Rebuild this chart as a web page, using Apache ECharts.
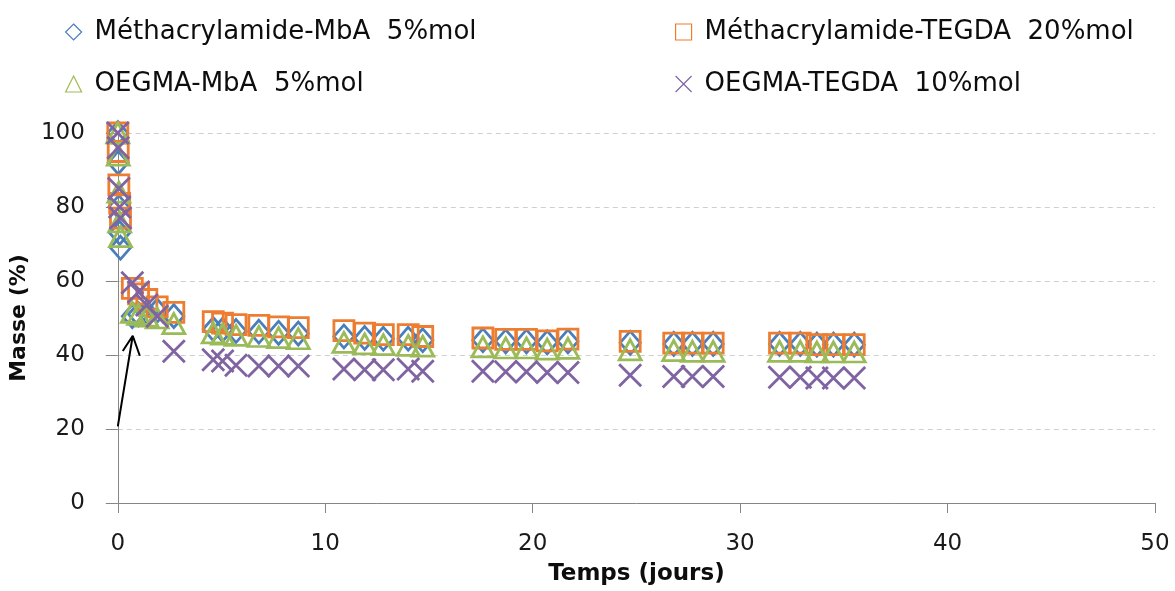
<!DOCTYPE html>
<html>
<head>
<meta charset="utf-8">
<script src="https://cdn.jsdelivr.net/npm/echarts@6/dist/echarts.min.js"></script>
<style>
html,body{margin:0;padding:0;background:#fff;}
#chart{width:1175px;height:591px;}
</style>
</head>
<body>
<div id="chart"></div>
<script>
// Time (days)
const days = [0, 0.02, 0.05, 0.09, 0.13, 0.7, 1.0, 1.4, 1.9, 2.7,
  4.6, 5.05, 5.7, 6.8, 7.75, 8.7, 10.9, 11.9, 12.8, 14.0, 14.7,
  17.6, 18.7, 19.7, 20.7, 21.7, 24.7, 26.8, 27.7, 28.7,
  31.9, 32.9, 33.7, 34.5, 35.5];

const seriesNames = ['Méthacrylamide-MbA  5%mol', 'Méthacrylamide-TEGDA  20%mol',
  'OEGMA-MbA  5%mol', 'OEGMA-TEGDA  10%mol'];

// Masse (%)
const methMbA = [100, 92, 80, 73, 69, 50.5, 51, 51.5, 52, 50.5,
  47, 46.8, 46.5, 46.3, 46, 45.8, 45, 44.6, 44.4, 44.4, 44,
  44, 43.7, 43.7, 43.4, 43.7, 43.3, 43, 43, 43,
  43, 43, 42.8, 42.8, 42.8];
const methTEGDA = [100, 95, 86, 81, 77, 58, 56.5, 55, 53, 51.5,
  49, 48.6, 48.2, 48, 47.6, 47.4, 46.6, 45.9, 45.5, 45.5, 45,
  44.6, 44.2, 44.2, 43.8, 44.3, 43.7, 43.2, 43.2, 43.2,
  43.2, 43.2, 42.8, 42.8, 42.8];
const oegmaMbA = [100, 94, 84, 76, 72, 51.5, 51, 50.5, 50, 48.5,
  46, 45.6, 45.3, 45, 44.7, 44.4, 43.4, 43, 42.8, 42.6, 42.4,
  42.2, 41.9, 41.9, 41.6, 41.8, 41.4, 41.2, 41, 41,
  41, 41, 40.8, 40.8, 40.8];
const oegmaTEGDA = [100, 96, 85, 80, 77, 59.5, 57, 53.5, 50.5, 41,
  38.7, 38.4, 37.2, 37, 37, 37, 36.2, 36, 36, 36.2, 35.6,
  35.6, 35.5, 35.5, 35.3, 35.3, 34.5, 34.2, 34.2, 34.2,
  34, 34, 33.8, 33.8, 33.8];

// Arrow annotation (data units): tail, tip, left wing, tip, right wing
const arrowPts = [[0, 20.7], [0.72, 45.2], [0.24, 41.1], [0.72, 45.2], [1.06, 39.8]];
// Y axis line extension above 100
const axisExt = [[0, 100], [0, 106]];

const xTicks = {min: 0, max: 50, interval: 10};
const yTicks = {min: 0, max: 100, interval: 20};

const colors = ['#4A7EBB', '#ED7D31', '#9BBB59', '#8064A2'];
const FONT = 'DejaVu Sans';
const crossPath = 'path://M0,0L10,10M10,0L0,10';

function pts(vals) { return days.map((d, i) => [d, vals[i]]); }

const valueSets = [methMbA, methTEGDA, oegmaMbA, oegmaTEGDA];
const symbols = ['diamond', 'rect', 'triangle', crossPath];
const sizes = [[20, 23], 20, [22, 20], 22];

const scatterSeries = valueSets.map((vals, k) => ({
  name: seriesNames[k],
  type: 'scatter',
  data: pts(vals),
  symbol: symbols[k],
  symbolSize: sizes[k],
  itemStyle: {color: 'rgba(0,0,0,0)', borderColor: colors[k], borderWidth: 2.8, opacity: 1},
  emphasis: {disabled: true},
  z: 2 + k
}));

function legendItem(k) {
  return {name: seriesNames[k], icon: symbols[k],
    itemStyle: {color: 'rgba(0,0,0,0)', borderColor: colors[k], borderWidth: 1.2}};
}

const legendCommon = {
  orient: 'vertical', top: 14, itemWidth: 16, itemHeight: 16, itemGap: 26,
  selectedMode: false,
  textStyle: {fontFamily: FONT, fontSize: 26, color: '#0d0d0d', padding: [0, 0, 0, 8]}
};

const chart = echarts.init(document.getElementById('chart'), null, {renderer: 'canvas'});
chart.setOption({
  animation: false,
  backgroundColor: '#ffffff',
  color: colors,
  legend: [
    Object.assign({}, legendCommon, {left: 60, data: [legendItem(0), legendItem(2)]}),
    Object.assign({}, legendCommon, {left: 670, data: [legendItem(1), legendItem(3)]})
  ],
  grid: {left: 117, right: 20, top: 133, bottom: 86, containLabel: false},
  xAxis: {
    type: 'value', min: xTicks.min, max: xTicks.max, interval: xTicks.interval,
    name: 'Temps (jours)', nameLocation: 'middle', nameGap: 60,
    nameTextStyle: {fontFamily: FONT, fontSize: 23, fontWeight: 'bold', color: '#0d0d0d'},
    axisLine: {show: true, onZero: false, lineStyle: {color: '#868686', width: 1}},
    axisTick: {show: true, length: 10, lineStyle: {color: '#868686'}},
    axisLabel: {fontFamily: FONT, fontSize: 23, color: '#1a1a1a', margin: 30},
    splitLine: {show: false}
  },
  yAxis: {
    type: 'value', min: yTicks.min, max: yTicks.max, interval: yTicks.interval,
    name: 'Masse (%)', nameLocation: 'middle', nameGap: 80,
    nameTextStyle: {fontFamily: FONT, fontSize: 22, fontWeight: 'bold', color: '#0d0d0d'},
    axisLine: {show: true, onZero: false, lineStyle: {color: '#868686', width: 1}},
    axisTick: {show: true, length: 12, lineStyle: {color: '#868686'}},
    axisLabel: {fontFamily: FONT, fontSize: 23, color: '#1a1a1a', margin: 33},
    splitLine: {show: true, lineStyle: {color: '#cfcfcf', type: [5, 4], width: 1}}
  },
  series: [
    {
      name: 'axisExt', type: 'line', data: axisExt, symbol: 'none', silent: true,
      lineStyle: {color: '#868686', width: 1}, z: 1
    }
  ].concat(scatterSeries).concat([
    {
      name: 'arrow', type: 'line', data: arrowPts, symbol: 'none', silent: true,
      lineStyle: {color: '#000000', width: 2}, z: 10
    }
  ])
});
</script>
</body>
</html>
